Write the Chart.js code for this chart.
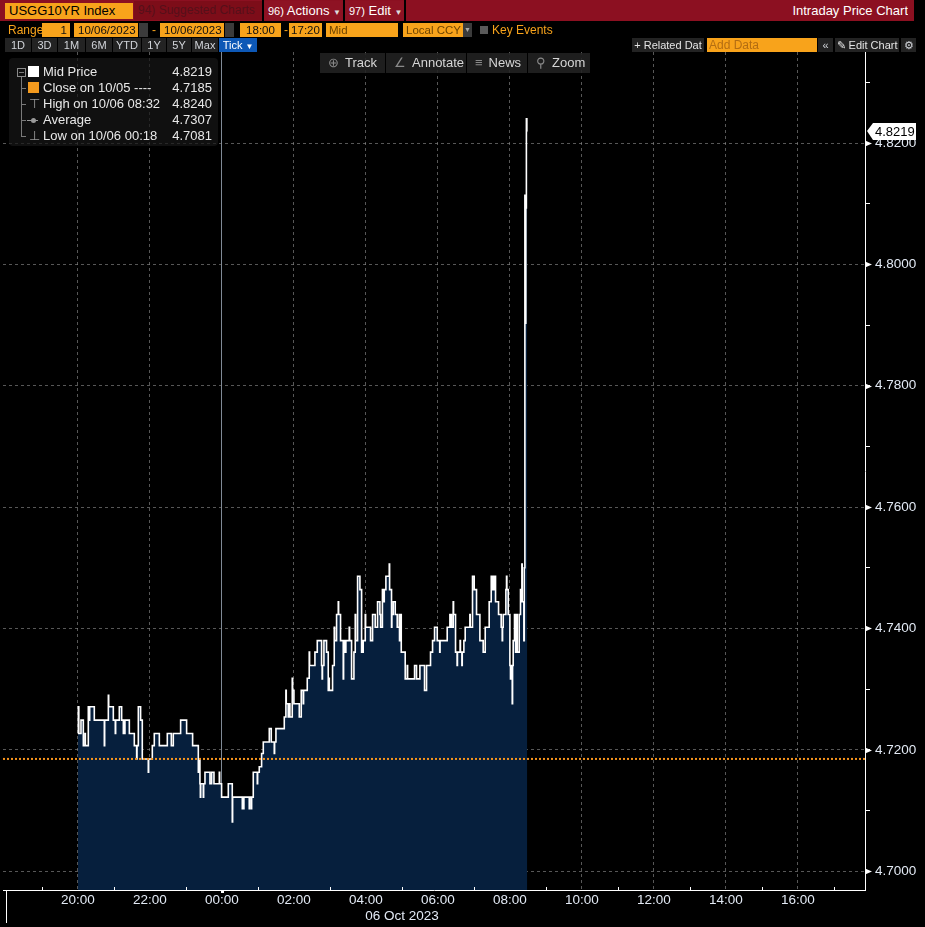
<!DOCTYPE html>
<html>
<head>
<meta charset="utf-8">
<script src="https://cdn.jsdelivr.net/npm/chart.js@4.4.0/dist/chart.umd.min.js"></script>
<style>
  * { box-sizing: border-box; }
  body { margin: 0; background: #000; width: 925px; height: 927px; overflow: hidden; font-family: 'Liberation Sans', Arial, sans-serif; }
  #priceChart { position: absolute; left: 0; top: 0; }
  .a { position: absolute; white-space: nowrap; overflow: hidden; }
  .ob { background: #f8a31b; color: #111; font-size: 11.5px; line-height: 14px; height: 14px; }
  .ic { background: #3b3b3b; height: 14px; }
  .bt { background: #232323; color: #d2d5da; font-size: 11px; line-height: 14px; height: 14px; text-align: center; }
  .tb { background: rgba(34,34,34,0.88); color: #d6d6d6; font-size: 13px; line-height: 20px; height: 20px; padding-left: 8px; }
  .tb span { color: #8a8a8a; margin-right: 6px; }
  .lg { color: #e8e8e8; font-size: 13px; line-height: 16px; }
  .lv { color: #e8e8e8; font-size: 13px; line-height: 16px; text-align: right; width: 80px; }
  .br { background: #7a7a7a; }
</style>
</head>
<body>
<canvas id="priceChart" width="925" height="927"></canvas>

<!-- title bar -->
<div class="a" style="left:0;top:0;width:914px;height:21px;background:#8c1021"></div>
<div class="a" style="left:5px;top:3px;width:128px;height:16px;background:#f8a31b;color:#000;font-size:13px;line-height:16px;padding-left:4px">USGG10YR Index</div>
<div class="a" style="left:134px;top:1px;width:128px;height:19px;background:#7d0d19;color:#55101a;font-size:12px;line-height:19px;padding-left:4px">94) Suggested Charts</div>
<div class="a" style="left:262px;top:0;width:2px;height:21px;background:#000"></div>
<div class="a" style="left:264px;top:1px;width:79px;height:19px;background:#8e1223;color:#fff;font-size:13px;line-height:19px;padding-left:4px"><span style="font-size:11px">96)</span> Actions <span style="font-size:8px;color:#ddd">&#9660;</span></div>
<div class="a" style="left:343px;top:0;width:2px;height:21px;background:#000"></div>
<div class="a" style="left:345px;top:1px;width:59px;height:19px;background:#8e1223;color:#fff;font-size:13px;line-height:19px;padding-left:4px"><span style="font-size:11px">97)</span> Edit <span style="font-size:8px;color:#ddd">&#9660;</span></div>
<div class="a" style="left:404px;top:0;width:2px;height:21px;background:#000"></div>
<div class="a" style="left:700px;top:1px;width:208px;color:#fff;font-size:13px;line-height:19px;text-align:right">Intraday Price Chart</div>

<!-- range row -->
<div class="a" style="left:8px;top:23px;color:#f8a31b;font-size:12px;line-height:14px">Range</div>
<div class="a ob" style="left:42px;top:23px;width:28px;text-align:right;padding-right:3px">1</div>
<div class="a ob" style="left:74px;top:23px;width:64px;padding-left:4px">10/06/2023</div>
<div class="a ic" style="left:139px;top:23px;width:9px"></div>
<div class="a" style="left:152px;top:23px;color:#f8a31b;font-size:12px;line-height:14px">-</div>
<div class="a ob" style="left:160px;top:23px;width:64px;padding-left:4px">10/06/2023</div>
<div class="a ic" style="left:225px;top:23px;width:9px"></div>
<div class="a ob" style="left:240px;top:23px;width:41px;text-align:center">18:00</div>
<div class="a" style="left:284px;top:23px;color:#f8a31b;font-size:12px;line-height:14px">-</div>
<div class="a ob" style="left:289px;top:23px;width:33px;text-align:center">17:20</div>
<div class="a ob" style="left:326px;top:23px;width:72px;padding-left:3px;color:#6e4400">Mid</div>
<div class="a ob" style="left:403px;top:23px;width:60px;padding-left:3px;color:#6e4400">Local CCY</div>
<div class="a ic" style="left:463px;top:23px;width:9px;color:#aaa;font-size:7px;line-height:14px;text-align:center">&#9660;</div>
<div class="a" style="left:480px;top:26px;width:8px;height:8px;background:#5a5a5a"></div>
<div class="a" style="left:492px;top:23px;color:#f8a31b;font-size:12px;line-height:14px">Key Events</div>

<!-- period buttons -->
<div class="a bt" style="left:5px;top:38px;width:26px">1D</div>
<div class="a bt" style="left:32px;top:38px;width:25px">3D</div>
<div class="a bt" style="left:58px;top:38px;width:27px">1M</div>
<div class="a bt" style="left:86px;top:38px;width:26px">6M</div>
<div class="a bt" style="left:113px;top:38px;width:28px">YTD</div>
<div class="a bt" style="left:142px;top:38px;width:24px">1Y</div>
<div class="a bt" style="left:167px;top:38px;width:24px">5Y</div>
<div class="a bt" style="left:192px;top:38px;width:26px">Max</div>
<div class="a bt" style="left:219px;top:38px;width:38px;background:#0d58b6;color:#fff">Tick <span style="font-size:8px">&#9660;</span></div>
<div class="a bt" style="left:632px;top:38px;width:72px;color:#e4e4e4">+ Related Dat</div>
<div class="a" style="left:707px;top:38px;width:110px;height:14px;background:#f8a31b;color:#b36d12;font-size:12px;line-height:14px;padding-left:2px">Add Data</div>
<div class="a bt" style="left:818px;top:38px;width:15px">&#171;</div>
<div class="a bt" style="left:835px;top:38px;width:64px;color:#e4e4e4">&#9998; Edit Chart</div>
<div class="a bt" style="left:901px;top:38px;width:15px">&#9881;</div>

<!-- chart toolbar -->
<div class="a tb" style="left:320px;top:53px;width:65px"><span>&#8853;</span>Track</div>
<div class="a tb" style="left:386px;top:53px;width:80px"><span>&#8736;</span>Annotate</div>
<div class="a tb" style="left:467px;top:53px;width:60px"><span>&#8801;</span>News</div>
<div class="a tb" style="left:528px;top:53px;width:62px"><span>&#9906;</span>Zoom</div>

<!-- legend -->
<div class="a" style="left:9px;top:58px;width:209px;height:88px;background:rgba(22,22,22,0.72);border-radius:4px"></div>
<div class="a" style="left:17px;top:68px;width:9px;height:9px;border:1px solid #8a8a8a"></div>
<div class="a br" style="left:19px;top:72px;width:5px;height:1px"></div>
<div class="a br" style="left:21px;top:77px;width:1px;height:59px"></div>
<div class="a br" style="left:21px;top:88px;width:5px;height:1px"></div>
<div class="a br" style="left:21px;top:104px;width:5px;height:1px"></div>
<div class="a br" style="left:21px;top:120px;width:5px;height:1px"></div>
<div class="a br" style="left:21px;top:136px;width:5px;height:1px"></div>
<div class="a" style="left:28px;top:66px;width:11px;height:11px;background:#fff"></div>
<div class="a" style="left:28px;top:82px;width:11px;height:11px;background:#f39a1e"></div>
<div class="a" style="left:29px;top:97px;color:#9a9a9a;font-size:13px;line-height:14px">&#8868;</div>
<div class="a" style="left:27px;top:120px;width:11px;height:1px;background:#9a9a9a"></div>
<div class="a" style="left:31px;top:118px;width:5px;height:5px;border-radius:50%;background:#9a9a9a"></div>
<div class="a" style="left:29px;top:129px;color:#9a9a9a;font-size:13px;line-height:14px">&#8869;</div>
<div class="a lg" style="left:43px;top:64px">Mid Price</div>
<div class="a lg" style="left:43px;top:80px">Close on 10/05 ----</div>
<div class="a lg" style="left:43px;top:96px">High on 10/06 08:32</div>
<div class="a lg" style="left:43px;top:112px">Average</div>
<div class="a lg" style="left:43px;top:128px">Low on 10/06 00:18</div>
<div class="a lv" style="left:132px;top:64px">4.8219</div>
<div class="a lv" style="left:132px;top:80px">4.7185</div>
<div class="a lv" style="left:132px;top:96px">4.8240</div>
<div class="a lv" style="left:132px;top:112px">4.7307</div>
<div class="a lv" style="left:132px;top:128px">4.7081</div>

<script>
// minutes after 20:00 (10/05) for each tick, and the mid yield from then on
const tickMinutes = [
  0, 0.6, 1.4, 5.0, 8.9, 11.7, 12.3, 17.2, 19.0, 19.5, 27.2, 43.9, 44.5, 50.6, 51.2, 58.9,
  62.2, 62.8, 68.9, 72.8, 75.6, 78.3, 85.6, 93.9, 97.8, 98.4, 100.6, 104.4, 107.2, 117.2, 117.8, 123.9,
  127.2, 135.6, 148.9, 155.6, 158.9, 171.1, 181.1, 191.1, 200.6, 201.2, 203.3, 204.0, 204.6, 208.9, 209.5, 211.7,
  220.0, 222.8, 226.7, 235.6, 236.2, 239.4, 250.6, 257.2, 257.8, 273.9, 276.6, 285.5, 286.1, 288.9, 289.5, 292.2,
  298.9, 299.5, 302.2, 306.1, 308.9, 318.9, 322.2, 327.2, 327.8, 330.0, 343.9, 346.6, 347.2, 350.5, 351.0, 353.3,
  357.2, 357.8, 360.0, 368.9, 372.2, 375.5, 376.1, 382.2, 385.5, 386.1, 395.0, 398.9, 406.1, 407.0, 407.6, 410.0,
  414.4, 417.2, 418.5, 419.0, 424.4, 427.2, 427.8, 431.1, 433.9, 434.5, 437.7, 442.2, 442.8, 444.4, 446.6, 452.2,
  452.8, 456.1, 460.0, 462.2, 462.8, 466.1, 470.0, 472.8, 475.5, 478.9, 479.5, 487.7, 491.1, 495.5, 499.4, 503.3,
  504.5, 507.5, 510.0, 510.6, 513.3, 518.9, 519.5, 522.7, 523.3, 525.5, 528.9, 532.2, 535.5, 536.0, 536.6, 538.9,
  545.5, 548.9, 549.5, 561.1, 564.4, 570.0, 577.7, 581.1, 587.7, 591.1, 594.4, 598.9, 603.0, 603.6, 615.5, 620.0,
  622.7, 625.5, 626.1, 629.4, 632.0, 632.6, 637.0, 637.6, 640.0, 640.6, 643.3, 645.5, 653.3, 653.9, 657.7, 660.5,
  664.4, 670.0, 675.5, 678.9, 685.5, 688.9, 689.5, 692.2, 692.8, 695.5, 696.1, 701.1, 705.5, 707.2, 707.8, 708.9,
  713.3, 714.4, 715.0, 717.2, 720.0, 721.0, 721.6, 723.9, 724.5, 725.5, 727.7, 729.5, 730.1, 732.2, 735.5, 737.7,
  738.3, 740.0, 740.6, 743.3, 744.0, 745.0, 745.8, 746.6, 747.5, 748.3, 749.0
];
const midPrices = [
  4.7227, 4.7271, 4.7227, 4.7249, 4.7207, 4.7227, 4.7207, 4.7271, 4.7249, 4.7271, 4.7249, 4.7207, 4.7249, 4.7290, 4.7271, 4.7249,
  4.7227, 4.7249, 4.7271, 4.7249, 4.7227, 4.7249, 4.7227, 4.7207, 4.7185, 4.7207, 4.7271, 4.7249, 4.7185, 4.7163, 4.7185, 4.7207,
  4.7227, 4.7207, 4.7227, 4.7207, 4.7227, 4.7249, 4.7227, 4.7207, 4.7163, 4.7185, 4.7144, 4.7122, 4.7144, 4.7122, 4.7144, 4.7163,
  4.7144, 4.7163, 4.7144, 4.7163, 4.7144, 4.7122, 4.7144, 4.7081, 4.7122, 4.7103, 4.7122, 4.7103, 4.7122, 4.7103, 4.7122, 4.7163,
  4.7144, 4.7163, 4.7172, 4.7194, 4.7213, 4.7235, 4.7213, 4.7194, 4.7213, 4.7235, 4.7254, 4.7298, 4.7276, 4.7254, 4.7276, 4.7254,
  4.7318, 4.7298, 4.7276, 4.7254, 4.7298, 4.7276, 4.7298, 4.7318, 4.7361, 4.7339, 4.7361, 4.7380, 4.7339, 4.7317, 4.7339, 4.7380,
  4.7361, 4.7298, 4.7318, 4.7298, 4.7339, 4.7402, 4.7380, 4.7423, 4.7444, 4.7423, 4.7380, 4.7317, 4.7380, 4.7361, 4.7380, 4.7402,
  4.7380, 4.7317, 4.7361, 4.7423, 4.7380, 4.7486, 4.7464, 4.7361, 4.7380, 4.7423, 4.7402, 4.7380, 4.7423, 4.7402, 4.7444, 4.7423,
  4.7402, 4.7464, 4.7444, 4.7464, 4.7486, 4.7506, 4.7464, 4.7402, 4.7423, 4.7444, 4.7423, 4.7402, 4.7423, 4.7380, 4.7423, 4.7361,
  4.7317, 4.7339, 4.7317, 4.7339, 4.7317, 4.7339, 4.7298, 4.7339, 4.7361, 4.7380, 4.7402, 4.7380, 4.7361, 4.7380, 4.7402, 4.7423,
  4.7402, 4.7444, 4.7423, 4.7361, 4.7339, 4.7361, 4.7380, 4.7361, 4.7339, 4.7361, 4.7380, 4.7402, 4.7423, 4.7402, 4.7486, 4.7464,
  4.7423, 4.7380, 4.7361, 4.7402, 4.7444, 4.7486, 4.7464, 4.7486, 4.7464, 4.7486, 4.7444, 4.7423, 4.7402, 4.7380, 4.7402, 4.7423,
  4.7464, 4.7486, 4.7464, 4.7423, 4.7339, 4.7317, 4.7339, 4.7276, 4.7339, 4.7380, 4.7423, 4.7361, 4.7423, 4.7361, 4.7423, 4.7464,
  4.7444, 4.7506, 4.7444, 4.7380, 4.7500, 4.8114, 4.7903, 4.8093, 4.8240, 4.8219, 4.8219
];
const prevClose = 4.7185;

// x axis: minutes after 20:00, hour ticks and labels
const hourTicks = [-120, -60, 0, 60, 120, 180, 240, 300, 360, 420, 480, 540, 600, 660, 720, 780, 840, 900, 960, 1020, 1080, 1140, 1200, 1260];
const xLabelMinutes = [0, 120, 240, 360, 480, 600, 720, 840, 960, 1080, 1200];
const xLabels = ['20:00', '22:00', '00:00', '02:00', '04:00', '06:00', '08:00', '10:00', '12:00', '14:00', '16:00'];
const dayBreakMinute = 240;
const dateLabelMinute = 540;
const dateLabel = '06 Oct 2023';
const rangeStartMinute = -120;
const xMin = -125;
const xMax = 1312;

// y axis: yield ticks
const yAxisTicks = [4.70, 4.71, 4.72, 4.73, 4.74, 4.75, 4.76, 4.77, 4.78, 4.79, 4.80, 4.81, 4.82, 4.83];
const yMajorTicks = [4.70, 4.72, 4.74, 4.76, 4.78, 4.80, 4.82];
const yMin = 4.6969;
const yMax = 4.8350;

const FONT = "'Liberation Sans', Arial, sans-serif";
const GRID = 'rgba(140,140,140,0.62)';
const LABEL = '#e2e9f4';

const isMajorY = v => yMajorTicks.some(m => Math.abs(m - v) < 1e-6);

// extra axis bits: range start marker, hour ticks, y pointers, last price tag
const overlayPlugin = {
  id: 'overlay',
  afterDraw(chart) {
    const { ctx, chartArea, scales: { x, y } } = chart;
    ctx.save();
    ctx.strokeStyle = '#fff';
    ctx.lineWidth = 1;

    const xs = Math.round(x.getPixelForValue(rangeStartMinute)) + 0.5;
    ctx.beginPath();
    ctx.moveTo(xs, chartArea.bottom);
    ctx.lineTo(xs, chartArea.bottom + 33);
    ctx.stroke();

    // hour ticks point up into the plot
    hourTicks.forEach(m => {
      if (xLabelMinutes.includes(m) || m === rangeStartMinute) return;
      const px = Math.round(x.getPixelForValue(m)) + 0.5;
      ctx.beginPath();
      ctx.moveTo(px, chartArea.bottom);
      ctx.lineTo(px, chartArea.bottom - 3);
      ctx.stroke();
    });
    const pd = Math.round(x.getPixelForValue(dayBreakMinute));
    ctx.fillStyle = '#fff';
    ctx.fillRect(pd - 1, chartArea.bottom, 3, 3);

    // pointers at y labels
    yMajorTicks.forEach(v => {
      const py = Math.round(y.getPixelForValue(v)) + 0.5;
      ctx.beginPath();
      ctx.moveTo(chartArea.right, py - 3);
      ctx.lineTo(chartArea.right + 7, py);
      ctx.lineTo(chartArea.right, py + 3);
      ctx.closePath();
      ctx.fill();
    });

    // last price tag
    const last = midPrices[midPrices.length - 1];
    const ly = Math.round(y.getPixelForValue(last));
    const r = chartArea.right;
    ctx.beginPath();
    ctx.moveTo(r + 2, ly);
    ctx.lineTo(r + 8, ly - 8);
    ctx.lineTo(r + 51, ly - 8);
    ctx.lineTo(r + 51, ly + 9);
    ctx.lineTo(r + 8, ly + 9);
    ctx.closePath();
    ctx.fill();
    ctx.fillStyle = '#000';
    ctx.font = '13px ' + FONT;
    ctx.textBaseline = 'middle';
    ctx.textAlign = 'left';
    ctx.fillText(last.toFixed(4), r + 10, ly + 1);
    ctx.restore();
  }
};

const pricePoints = tickMinutes.map((t, i) => ({ x: t, y: midPrices[i] }));

const ctx = document.getElementById('priceChart').getContext('2d');
new Chart(ctx, {
  type: 'line',
  data: {
    datasets: [
      {
        label: 'Mid Price',
        data: pricePoints,
        stepped: true,
        borderColor: '#ffffff',
        borderWidth: 1.6,
        backgroundColor: '#061f3d',
        fill: 'start',
        pointRadius: 0,
        order: 2,
      },
      {
        label: 'Close on 10/05',
        data: [{ x: xMin, y: prevClose }, { x: xMax, y: prevClose }],
        borderColor: '#f7941d',
        borderWidth: 2,
        borderDash: [2, 2],
        pointRadius: 0,
        fill: false,
        order: 1,
      },
    ],
  },
  options: {
    responsive: false,
    animation: false,
    devicePixelRatio: 1,
    layout: { padding: { top: 52, left: 3, right: 0, bottom: 0 } },
    plugins: { legend: { display: false }, tooltip: { enabled: false } },
    scales: {
      x: {
        type: 'linear',
        min: xMin,
        max: xMax,
        z: 1,
        afterBuildTicks: s => { s.ticks = hourTicks.map(v => ({ value: v })); },
        afterFit: s => { s.height = 37; },
        ticks: {
          autoSkip: false,
          maxRotation: 0,
          padding: 2,
          color: LABEL,
          font: { family: FONT, size: 13.5 },
          callback: v => {
            const i = xLabelMinutes.indexOf(v);
            if (i >= 0) return xLabels[i];
            if (v === dateLabelMinute) return ['', dateLabel];
            return '';
          },
        },
        grid: {
          drawTicks: false,
          lineWidth: 1,
          color: c => {
            const v = c.tick ? c.tick.value : null;
            if (v === dayBreakMinute) return 'rgba(150,162,176,0.85)';
            return xLabelMinutes.includes(v) ? GRID : 'rgba(0,0,0,0)';
          },
        },
        border: {
          display: true,
          color: '#ffffff',
          dash: c => (c.tick && c.tick.value === dayBreakMinute ? [] : [3, 3]),
        },
      },
      y: {
        position: 'right',
        min: yMin,
        max: yMax,
        z: 1,
        afterBuildTicks: s => { s.ticks = yAxisTicks.map(v => ({ value: v })); },
        afterFit: s => { s.width = 60; },
        ticks: {
          padding: 5,
          color: LABEL,
          font: { family: FONT, size: 13.5 },
          callback: v => (isMajorY(v) ? v.toFixed(4) : ''),
        },
        grid: {
          lineWidth: 1,
          tickLength: 5,
          tickColor: '#ffffff',
          color: c => (c.tick && isMajorY(c.tick.value) ? GRID : 'rgba(0,0,0,0)'),
        },
        border: { display: true, color: '#ffffff', dash: [3, 3] },
      },
    },
  },
  plugins: [overlayPlugin],
});
</script>
</body>
</html>
